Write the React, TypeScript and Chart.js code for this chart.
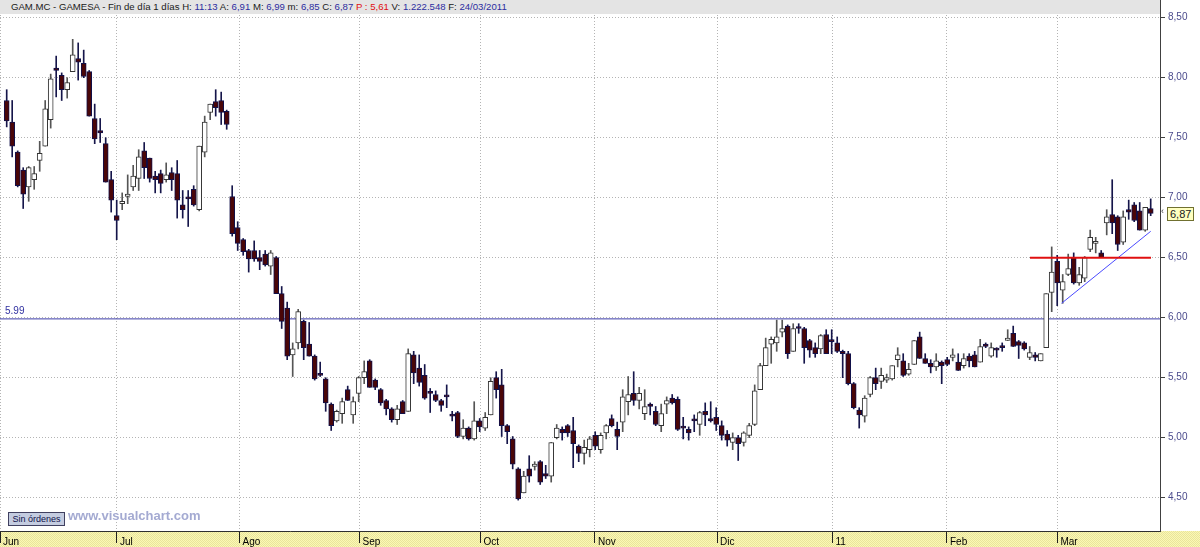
import React, { useEffect, useRef } from "react";
import { Chart, registerables } from "chart.js";

Chart.register(...registerables);

// ---- data ----
const opens = [
  7.81, 7.63, 7.38, 7.23, 7.09, 7.15, 7.31, 7.43, 7.65, 8.08,
  8.02, 7.90, 8.05, 8.16, 8.12, 8.05, 7.66, 7.56, 7.45, 7.15,
  6.85, 6.95, 7.01, 7.09, 7.16, 7.39, 7.33, 7.18, 7.20, 7.15,
  7.21, 7.20, 6.94, 7.00, 7.07, 6.90, 7.38, 7.71, 7.80, 7.81,
  7.72, 7.01, 6.75, 6.65, 6.56, 6.56, 6.50, 6.53, 6.43, 6.50,
  6.20, 6.08, 5.69, 5.79, 5.97, 5.78, 5.68, 5.53, 5.49, 5.28,
  5.14, 5.20, 5.40, 5.19, 5.37, 5.50, 5.64, 5.48, 5.40, 5.31,
  5.24, 5.15, 5.30, 5.22, 5.69, 5.58, 5.52, 5.38, 5.36, 5.31,
  5.35, 5.18, 5.21, 5.01, 5.08, 4.99, 5.14, 5.08, 5.19, 5.50,
  5.44, 5.10, 4.99, 4.74, 4.54, 4.74, 4.76, 4.80, 4.70, 4.68,
  5.00, 5.07, 5.10, 5.06, 4.93, 4.87, 4.90, 5.02, 4.90, 5.04,
  5.16, 5.07, 5.13, 5.30, 5.37, 5.31, 5.20, 5.28, 5.22, 5.10,
  5.28, 5.33, 5.32, 5.08, 5.07, 5.14, 5.11, 5.22, 5.16, 5.17,
  5.10, 5.03, 4.96, 5.00, 4.96, 5.02, 5.11, 5.40, 5.60, 5.78,
  5.79, 5.88, 5.93, 5.72, 5.92, 5.91, 5.81, 5.75, 5.74, 5.86,
  5.80, 5.79, 5.72, 5.70, 5.45, 5.23, 5.18, 5.36, 5.50, 5.47,
  5.48, 5.49, 5.65, 5.64, 5.53, 5.61, 5.84, 5.66, 5.62, 5.59,
  5.63, 5.65, 5.67, 5.63, 5.60, 5.68, 5.69, 5.63, 5.78, 5.68,
  5.74, 5.76, 5.81, 5.87, 5.80, 5.79, 5.67, 5.69, 5.64, 5.75,
  6.21, 6.47, 6.23, 6.36, 6.50, 6.29, 6.33, 6.57, 6.62, 6.54,
  6.79, 6.86, 6.84, 6.63, 6.90, 6.94, 6.89, 6.73, 6.91,
];
const highs = [
  7.90, 7.81, 7.39, 7.25, 7.26, 7.26, 7.47, 7.81, 8.03, 8.18,
  8.04, 8.00, 8.32, 8.29, 8.23, 8.06, 7.78, 7.66, 7.50, 7.22,
  6.98, 7.04, 7.19, 7.27, 7.40, 7.46, 7.33, 7.22, 7.23, 7.29,
  7.25, 7.31, 7.06, 7.06, 7.10, 7.43, 7.68, 7.78, 7.90, 7.88,
  7.73, 7.10, 6.80, 6.66, 6.57, 6.64, 6.56, 6.56, 6.56, 6.51,
  6.26, 6.13, 5.79, 6.07, 5.98, 5.96, 5.69, 5.63, 5.50, 5.29,
  5.23, 5.33, 5.43, 5.34, 5.51, 5.64, 5.65, 5.49, 5.41, 5.32,
  5.25, 5.27, 5.31, 5.74, 5.72, 5.69, 5.61, 5.41, 5.39, 5.32,
  5.44, 5.22, 5.22, 5.15, 5.09, 5.30, 5.16, 5.21, 5.50, 5.55,
  5.57, 5.11, 5.01, 4.75, 4.72, 4.85, 4.80, 4.81, 4.77, 4.96,
  5.11, 5.09, 5.11, 5.17, 4.94, 4.98, 5.01, 5.05, 5.04, 5.11,
  5.19, 5.13, 5.40, 5.51, 5.55, 5.42, 5.40, 5.29, 5.26, 5.28,
  5.34, 5.36, 5.34, 5.17, 5.09, 5.19, 5.22, 5.29, 5.30, 5.25,
  5.14, 5.06, 5.04, 5.02, 5.05, 5.12, 5.44, 5.62, 5.83, 5.84,
  5.98, 5.98, 5.94, 5.95, 5.95, 5.92, 5.82, 5.79, 5.86, 5.90,
  5.90, 5.84, 5.73, 5.72, 5.46, 5.25, 5.35, 5.51, 5.58, 5.58,
  5.53, 5.60, 5.75, 5.70, 5.62, 5.81, 5.88, 5.70, 5.65, 5.70,
  5.64, 5.67, 5.74, 5.70, 5.70, 5.70, 5.72, 5.82, 5.79, 5.79,
  5.75, 5.79, 5.90, 5.93, 5.81, 5.80, 5.76, 5.71, 5.70, 6.20,
  6.59, 6.52, 6.36, 6.53, 6.54, 6.42, 6.51, 6.73, 6.67, 6.56,
  6.90, 7.15, 6.85, 6.89, 6.98, 6.96, 6.96, 6.92, 6.99,
];
const lows = [
  7.59, 7.34, 7.09, 6.91, 6.97, 7.07, 7.22, 7.43, 7.58, 7.84,
  7.81, 7.83, 8.05, 7.98, 8.00, 7.68, 7.45, 7.46, 7.13, 6.88,
  6.65, 6.90, 6.95, 7.06, 7.06, 7.16, 7.13, 7.04, 7.04, 7.13,
  7.06, 6.83, 6.83, 6.76, 6.93, 6.89, 7.34, 7.65, 7.68, 7.61,
  7.57, 6.68, 6.56, 6.52, 6.38, 6.47, 6.40, 6.43, 6.36, 6.20,
  5.91, 5.65, 5.51, 5.74, 5.65, 5.68, 5.48, 5.51, 5.22, 5.06,
  5.13, 5.12, 5.31, 5.12, 5.30, 5.45, 5.42, 5.40, 5.27, 5.19,
  5.13, 5.11, 5.20, 5.22, 5.45, 5.43, 5.32, 5.21, 5.30, 5.22,
  5.25, 5.14, 5.00, 4.99, 4.98, 4.98, 5.05, 5.06, 5.19, 5.33,
  5.01, 4.95, 4.74, 4.48, 4.54, 4.63, 4.73, 4.61, 4.66, 4.63,
  4.99, 4.98, 5.01, 4.75, 4.80, 4.78, 4.84, 4.90, 4.87, 4.99,
  5.09, 4.90, 5.05, 5.19, 5.27, 5.24, 5.15, 5.19, 5.10, 5.05,
  5.20, 5.28, 5.06, 4.99, 4.98, 5.05, 5.02, 5.10, 5.13, 5.06,
  4.98, 4.93, 4.90, 4.81, 4.93, 5.00, 5.10, 5.40, 5.60, 5.62,
  5.72, 5.84, 5.66, 5.72, 5.87, 5.62, 5.67, 5.67, 5.70, 5.70,
  5.70, 5.71, 5.50, 5.44, 5.24, 5.08, 5.13, 5.34, 5.40, 5.41,
  5.46, 5.48, 5.59, 5.51, 5.52, 5.61, 5.66, 5.62, 5.54, 5.56,
  5.45, 5.60, 5.64, 5.56, 5.58, 5.59, 5.59, 5.63, 5.75, 5.67,
  5.67, 5.72, 5.81, 5.76, 5.66, 5.73, 5.65, 5.64, 5.64, 5.75,
  6.05, 6.10, 6.12, 6.35, 6.28, 6.27, 6.30, 6.55, 6.54, 6.50,
  6.69, 6.70, 6.56, 6.61, 6.82, 6.80, 6.73, 6.72, 6.85,
];
const closes = [
  7.64, 7.43, 7.10, 7.03, 7.25, 7.20, 7.37, 7.74, 7.99, 8.06,
  7.90, 7.96, 8.19, 8.13, 8.01, 7.68, 7.49, 7.54, 7.13, 6.98,
  6.81, 6.97, 7.03, 7.18, 7.34, 7.25, 7.16, 7.15, 7.12, 7.19,
  7.15, 6.98, 6.90, 6.99, 6.94, 7.43, 7.63, 7.78, 7.75, 7.71,
  7.61, 6.70, 6.62, 6.55, 6.49, 6.49, 6.47, 6.44, 6.54, 6.20,
  5.97, 5.68, 5.74, 6.05, 5.75, 5.68, 5.49, 5.52, 5.29, 5.10,
  5.22, 5.30, 5.31, 5.30, 5.50, 5.55, 5.42, 5.42, 5.29, 5.24,
  5.15, 5.24, 5.20, 5.70, 5.54, 5.46, 5.33, 5.37, 5.31, 5.27,
  5.34, 5.18, 5.01, 5.08, 4.99, 5.14, 5.09, 5.17, 5.47, 5.40,
  5.10, 5.05, 4.78, 4.49, 4.68, 4.68, 4.78, 4.63, 4.68, 4.96,
  5.08, 5.04, 5.04, 4.95, 4.87, 4.92, 4.99, 4.93, 5.02, 5.10,
  5.10, 5.01, 5.34, 5.36, 5.31, 5.37, 5.26, 5.26, 5.11, 5.20,
  5.31, 5.29, 5.07, 5.08, 5.04, 5.14, 5.21, 5.19, 5.14, 5.11,
  5.02, 4.98, 5.00, 4.95, 5.04, 5.10, 5.39, 5.60, 5.75, 5.82,
  5.84, 5.91, 5.70, 5.91, 5.91, 5.75, 5.73, 5.70, 5.85, 5.70,
  5.80, 5.72, 5.70, 5.45, 5.25, 5.19, 5.33, 5.50, 5.45, 5.52,
  5.50, 5.60, 5.69, 5.52, 5.57, 5.81, 5.66, 5.62, 5.59, 5.64,
  5.60, 5.61, 5.69, 5.56, 5.66, 5.64, 5.59, 5.76, 5.76, 5.75,
  5.73, 5.75, 5.83, 5.76, 5.77, 5.74, 5.71, 5.67, 5.70, 6.20,
  6.38, 6.29, 6.30, 6.41, 6.29, 6.36, 6.50, 6.67, 6.63, 6.50,
  6.84, 6.79, 6.61, 6.84, 6.88, 6.81, 6.73, 6.92, 6.87,
];

const monthLabels = ["Jun", "Jul", "Ago", "Sep", "Oct", "Nov", "Dic", "11", "Feb", "Mar"];
const monthTickPos = [-1.218, 20.05, 42.33, 64.16, 86.15, 106.96, 129.15, 150.15, 170.96, 191.04];
const priceTicks = [4.5, 5.0, 5.5, 6.0, 6.5, 7.0, 7.5, 8.0, 8.5];

const supportLevel = 5.99;
const resistanceLevel = 6.5;
const resistanceFrom = 186.05;
const resistanceTo = 208.05;
const trendFrom = { x: 191.8, y: 6.12 };
const trendTo = { x: 208.0, y: 6.72 };

const X_MIN = -1.218;
const X_MAX = 209.69;
const Y_MIN = 4.2225;
const Y_MAX = 8.6475;

const FONT = "'Liberation Sans', Arial, sans-serif";

const axisBandPlugin = {
  id: "axisBand",
  beforeDraw(chart: any) {
    const { ctx, chartArea, width, height } = chart;
    ctx.save();
    ctx.fillStyle = "#ffffff";
    ctx.fillRect(0, 0, width, height);
    const pc = document.createElement("canvas");
    pc.width = 2;
    pc.height = 2;
    const p = pc.getContext("2d")!;
    p.fillStyle = "#fbf8b4";
    p.fillRect(0, 0, 2, 2);
    p.fillStyle = "#e9e49c";
    p.fillRect(0, 0, 1, 1);
    p.fillRect(1, 1, 1, 1);
    ctx.fillStyle = ctx.createPattern(pc, "repeat");
    ctx.fillRect(0, chartArea.bottom, width, height - chartArea.bottom);
    ctx.restore();
  },
};

export default function App() {
  const ref = useRef<HTMLCanvasElement | null>(null);

  useEffect(() => {
    const canvas = ref.current;
    if (!canvas) return;
    const isUp = opens.map((o, i) => closes[i] > o);
    const bodyData = opens.map((o, i) => ({ x: i, y: [o, closes[i]] }));
    const wickData = opens.map((o, i) => ({ x: i, y: [lows[i], highs[i]] }));

    const chart = new Chart(canvas, {
      type: "bar",
      data: {
        datasets: [
          {
            type: "line",
            data: [
              { x: X_MIN, y: supportLevel },
              { x: X_MAX, y: supportLevel },
            ],
            borderColor: "#3c3ca8",
            borderWidth: 1,
            pointRadius: 0,
            order: 3,
          } as any,
          {
            type: "bar",
            data: wickData,
            backgroundColor: isUp.map((u) => (u ? "#555555" : "#15154a")),
            borderWidth: 0,
            barThickness: 1,
            grouped: false,
            order: 2,
          } as any,
          {
            type: "bar",
            data: bodyData,
            backgroundColor: isUp.map((u) => (u ? "#ffffff" : "#4a0608")),
            borderColor: isUp.map((u) => (u ? "#333333" : "#10104a")),
            borderWidth: 1,
            borderSkipped: false,
            barThickness: 5,
            minBarLength: 2,
            grouped: false,
            order: 1,
          } as any,
          {
            type: "line",
            data: [
              { x: resistanceFrom, y: resistanceLevel },
              { x: resistanceTo, y: resistanceLevel },
            ],
            borderColor: "#e01010",
            borderWidth: 2,
            pointRadius: 0,
            order: 0,
          } as any,
          {
            type: "line",
            data: [trendFrom, trendTo],
            borderColor: "#4a4aff",
            borderWidth: 1,
            pointRadius: 0,
            order: 0,
          } as any,
        ],
      },
      options: {
        responsive: false,
        animation: false,
        devicePixelRatio: 1,
        layout: { padding: 0 },
        plugins: { legend: { display: false }, tooltip: { enabled: false }, title: { display: false } },
        scales: {
          x: {
            type: "linear",
            min: X_MIN,
            max: X_MAX,
            offset: false,
            afterBuildTicks: (s: any) => {
              s.ticks = monthTickPos.map((v) => ({ value: v }));
            },
            afterFit: (s: any) => {
              s.height = 16;
              s.paddingLeft = 0;
              s.paddingRight = 0;
            },
            grid: {
              color: "#b4b4b4",
              lineWidth: 1,
              offset: false,
              drawTicks: true,
              tickLength: 12,
              tickColor: "#202020",
              tickBorderDash: [],
            },
            border: { display: true, color: "#303030", width: 1, dash: [1, 2] },
            ticks: {
              autoSkip: false,
              maxRotation: 0,
              align: "start",
              labelOffset: 3,
              padding: -7,
              color: "#000000",
              font: { family: FONT, size: 10 },
              callback: (_v: any, i: number) => monthLabels[i],
            },
          },
          y: {
            type: "linear",
            position: "right",
            min: Y_MIN,
            max: Y_MAX,
            afterBuildTicks: (s: any) => {
              s.ticks = priceTicks.map((v) => ({ value: v }));
            },
            afterFit: (s: any) => {
              s.width = 40;
              s.paddingTop = 0;
              s.paddingBottom = 0;
            },
            grid: {
              color: "#b4b4b4",
              lineWidth: 1,
              drawTicks: true,
              tickLength: 5,
              tickColor: "#404040",
              tickBorderDash: [],
            },
            border: { display: true, color: "#404040", width: 1, dash: [1, 2] },
            ticks: {
              padding: 3,
              color: "#4a4a8c",
              font: { family: FONT, size: 10 },
              callback: (v: any) => Number(v).toFixed(2).replace(".", ","),
            },
          },
        },
      },
      plugins: [axisBandPlugin],
    });
    return () => chart.destroy();
  }, []);

  const lab = { color: "#202020" };
  const val = { color: "#2c2ca0" };

  return (
    <div style={{ position: "fixed", left: 0, top: 0, width: 1200, height: 547, overflow: "hidden", fontFamily: FONT }}>
      <canvas ref={ref} width={1200} height={547} style={{ position: "absolute", left: 0, top: 0, width: 1200, height: 547 }} />
      <div
        style={{
          position: "absolute",
          left: 0,
          top: 0,
          width: 1160,
          height: 14,
          background: "#e4e4e4",
          fontSize: 9.6,
          lineHeight: "14px",
          paddingLeft: 11,
          whiteSpace: "pre",
          boxSizing: "border-box",
        }}
      >
        <span style={lab}>GAM.MC - GAMESA - Fin de día 1 días H: </span>
        <span style={val}>11:13</span>
        <span style={lab}> A: </span>
        <span style={val}>6,91</span>
        <span style={lab}> M: </span>
        <span style={val}>6,99</span>
        <span style={lab}> m: </span>
        <span style={val}>6,85</span>
        <span style={lab}> C: </span>
        <span style={val}>6,87</span>
        <span style={{ color: "#e01010" }}> P : 5,61</span>
        <span style={lab}> V: </span>
        <span style={val}>1.222.548</span>
        <span style={lab}> F: </span>
        <span style={val}>24/03/2011</span>
      </div>
      <div style={{ position: "absolute", left: 5, top: 305, fontSize: 10, color: "#3030a0" }}>5.99</div>
      <div
        style={{
          position: "absolute",
          left: 8,
          top: 512,
          width: 57,
          height: 14,
          boxSizing: "border-box",
          background: "#c4cce0",
          border: "1px solid #404060",
          fontSize: 9,
          lineHeight: "12px",
          textAlign: "center",
          color: "#10104a",
        }}
      >
        Sin órdenes
      </div>
      <div
        style={{
          position: "absolute",
          left: 68,
          top: 508,
          fontSize: 13,
          fontWeight: "bold",
          color: "#a4aad2",
        }}
      >
        www.visualchart.com
      </div>
      <div style={{ position: "absolute", left: 1161, top: 206, fontSize: 9, color: "#404040" }}>‹</div>
      <div
        style={{
          position: "absolute",
          left: 1167,
          top: 207,
          height: 14,
          boxSizing: "border-box",
          padding: "0 2px",
          background: "#ffffc0",
          border: "1px solid #707030",
          fontSize: 11,
          lineHeight: "12px",
          color: "#202020",
        }}
      >
        6,87
      </div>
    </div>
  );
}
